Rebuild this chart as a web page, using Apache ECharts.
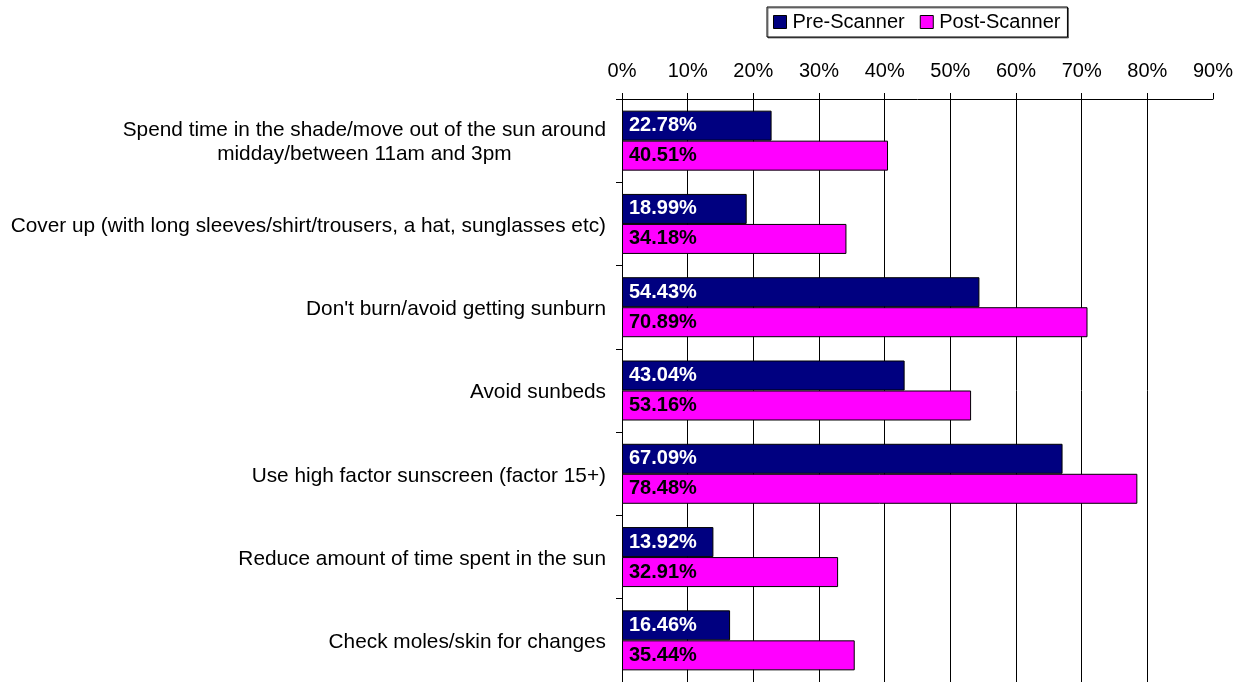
<!DOCTYPE html>
<html>
<head>
<meta charset="utf-8">
<script src="https://cdn.jsdelivr.net/npm/echarts@6/dist/echarts.min.js"></script>
<style>
  html, body { margin: 0; padding: 0; background: #ffffff; }
  #chart { width: 1253px; height: 682px; }
</style>
</head>
<body>
<div id="chart"></div>
<script>
// Sun-safety behaviours reported before and after the scanner session (% of respondents)
const categories = [
  'Spend time in the shade/move out of the sun around\nmidday/between 11am and 3pm',
  'Cover up (with long sleeves/shirt/trousers, a hat, sunglasses etc)',
  "Don't burn/avoid getting sunburn",
  'Avoid sunbeds',
  'Use high factor sunscreen (factor 15+)',
  'Reduce amount of time spent in the sun',
  'Check moles/skin for changes'
];
const preScanner = [22.78, 18.99, 54.43, 43.04, 67.09, 13.92, 16.46];
const postScanner = [40.51, 34.18, 70.89, 53.16, 78.48, 32.91, 35.44];
const seriesNames = ['Pre-Scanner', 'Post-Scanner'];

const FONT = '"Liberation Sans", Arial, sans-serif';

const chart = echarts.init(document.getElementById('chart'), null, { renderer: 'canvas' });

function barLabel(color) {
  return {
    show: true,
    position: 'insideLeft',
    distance: 7,
    color: color,
    fontFamily: FONT,
    fontSize: 20,
    fontWeight: 'bold',
    formatter: p => p.value.toFixed(2) + '%'
  };
}

chart.setOption({
  animation: false,
  backgroundColor: '#ffffff',
  textStyle: { fontFamily: FONT },
  legend: {
    data: seriesNames,
    left: 767,
    top: 7,
    padding: [5, 7, 5, 6],
    itemWidth: 13,
    itemHeight: 13,
    itemGap: 15,
    icon: 'rect',
    borderColor: '#000000',
    borderWidth: 1,
    backgroundColor: '#ffffff',
    shadowColor: 'rgba(0,0,0,0.5)',
    shadowOffsetX: 1,
    shadowOffsetY: 1,
    textStyle: { fontFamily: FONT, fontSize: 20, color: '#000000', padding: [0, 0, 0, 1] },
    itemStyle: { borderColor: '#000000', borderWidth: 1 }
  },
  grid: { left: 622, top: 99, width: 591, height: 588, containLabel: false },
  xAxis: {
    type: 'value',
    position: 'top',
    min: 0,
    max: 90,
    interval: 10,
    axisLine: { show: true, lineStyle: { color: '#000000', width: 1 } },
    axisTick: { show: true, length: 6, lineStyle: { color: '#000000' } },
    axisLabel: {
      formatter: '{value}%',
      color: '#000000',
      fontFamily: FONT,
      fontSize: 20,
      margin: 18
    },
    splitLine: {
      show: true,
      showMinLine: false,
      showMaxLine: false,
      lineStyle: { color: '#000000', width: 1 }
    }
  },
  yAxis: {
    type: 'category',
    data: categories,
    inverse: true,
    axisLine: { show: true, lineStyle: { color: '#000000', width: 1 } },
    axisTick: { show: true, length: 6, lineStyle: { color: '#000000' } },
    axisLabel: {
      color: '#000000',
      fontFamily: FONT,
      fontSize: 20.8,
      margin: 16,
      padding: [4, 0, 0, 0],
      formatter: v => '{c|' + v + '}',
      rich: {
        c: { fontFamily: FONT, fontSize: 20.8, color: '#000000', lineHeight: 24, align: 'center' }
      }
    },
    splitLine: { show: false }
  },
  series: [
    {
      name: seriesNames[0],
      type: 'bar',
      data: preScanner,
      barWidth: 30,
      barGap: '0%',
      itemStyle: { color: '#000080', borderColor: '#000000', borderWidth: 1 },
      label: barLabel('#ffffff')
    },
    {
      name: seriesNames[1],
      type: 'bar',
      data: postScanner,
      barWidth: 30,
      barGap: '0%',
      itemStyle: { color: '#ff00ff', borderColor: '#000000', borderWidth: 1 },
      label: barLabel('#000000')
    }
  ]
});
</script>
</body>
</html>
